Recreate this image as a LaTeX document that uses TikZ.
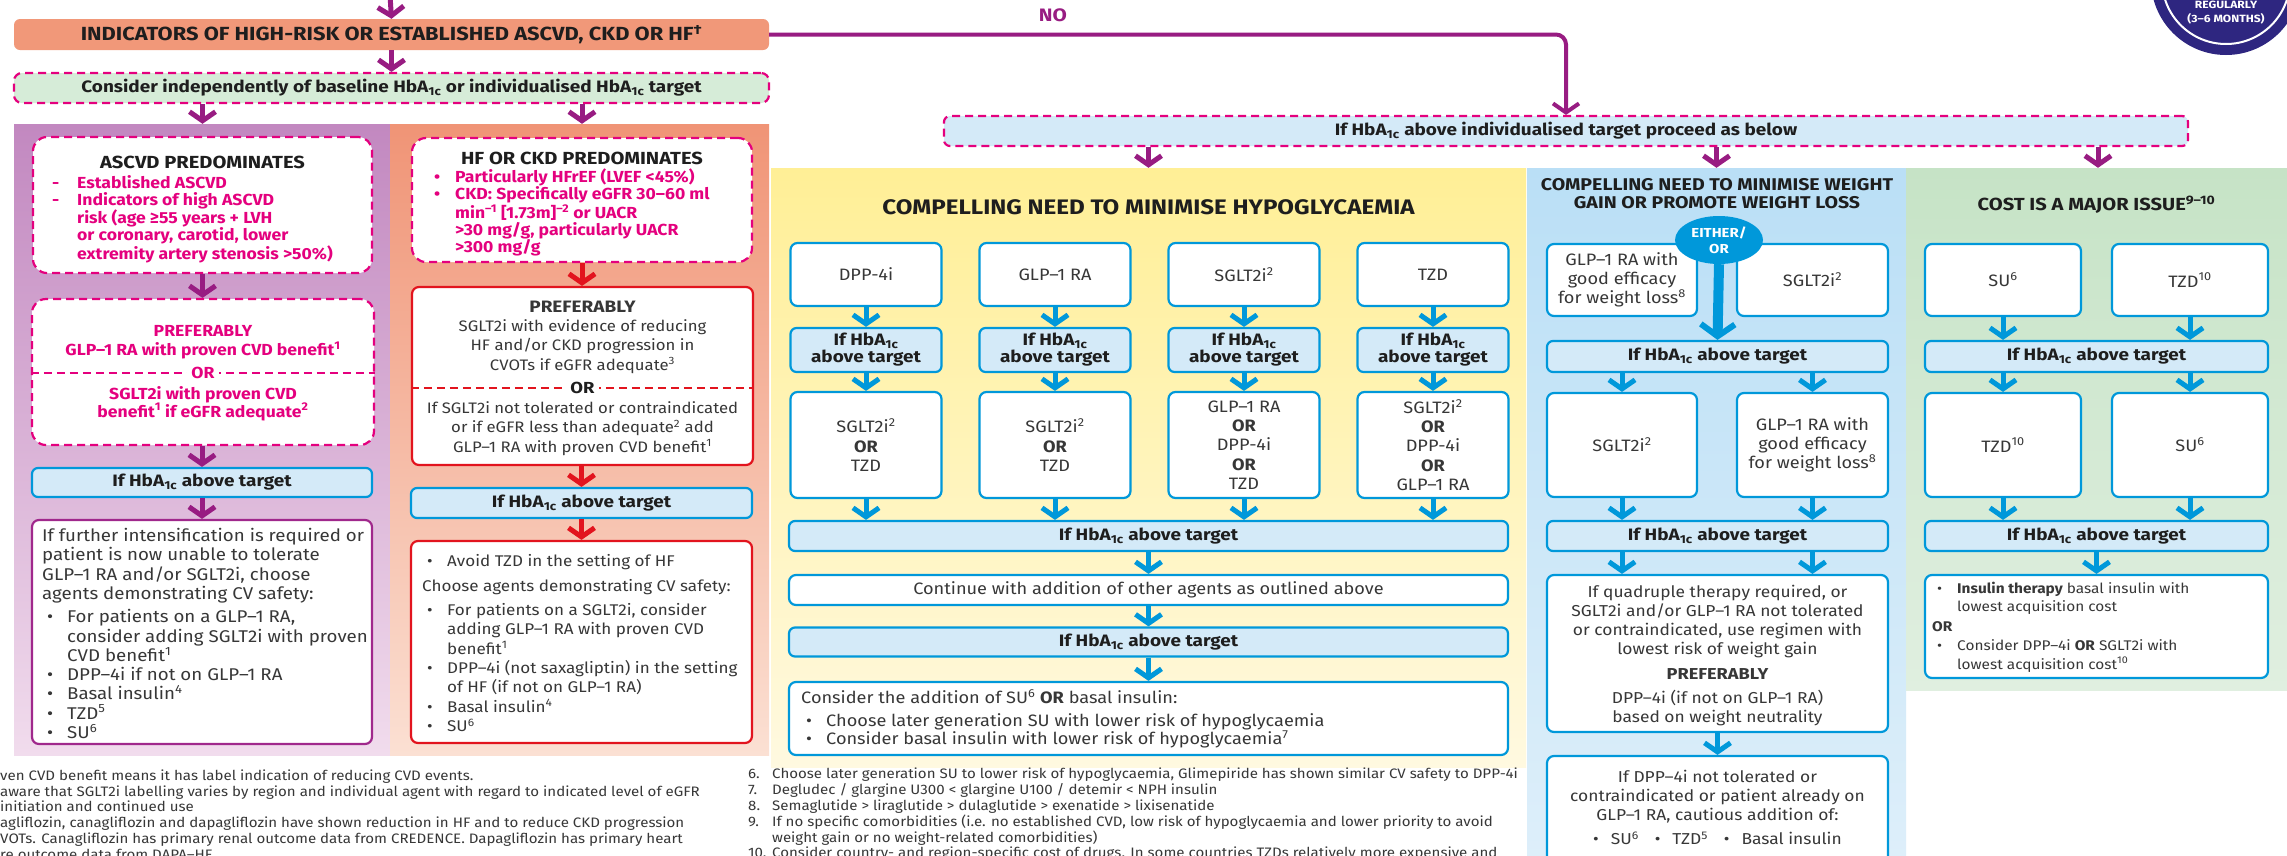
\documentclass[tikz,border=0pt]{standalone}
\usepackage{fontspec}
\setmainfont{Fira Sans}[FakeStretch=1.1]
\newfontfamily\headf{Fira Sans}[FakeStretch=1.15]
\usetikzlibrary{arrows.meta,shapes.geometric}
\definecolor{purA}{RGB}{152,28,130}
\definecolor{purB}{RGB}{160,40,140}
\definecolor{magD}{RGB}{228,0,126}
\definecolor{redA}{RGB}{226,20,30}
\definecolor{blueA}{RGB}{0,152,218}
\definecolor{blueF}{RGB}{212,234,248}
\definecolor{oraF}{RGB}{241,152,121}
\definecolor{greF}{RGB}{214,236,216}
\definecolor{navy}{RGB}{46,38,128}
\definecolor{purT}{RGB}{194,136,192}
\definecolor{purBt}{RGB}{241,220,237}
\definecolor{oraT}{RGB}{240,148,118}
\definecolor{oraBt}{RGB}{251,224,211}
\definecolor{yelT}{RGB}{255,239,150}
\definecolor{yelB}{RGB}{255,249,224}
\definecolor{bluT}{RGB}{186,223,246}
\definecolor{bluB}{RGB}{222,239,250}
\definecolor{grnT}{RGB}{198,227,198}
\definecolor{grnB}{RGB}{224,239,224}
\definecolor{txtD}{RGB}{30,30,30}
\definecolor{txtG}{RGB}{55,55,55}
\newcommand\mydash{\makebox[25pt][l]{-}}
\newcommand\mydot{\makebox[21pt][l]{•}}
\newcommand\myind[1]{\hspace*{#1pt}}
\newcommand\mybul{\hspace*{5pt}\makebox[20pt][l]{•}}
\newcommand\hba{HbA\textsubscript{1c}}
\begin{document}
\begin{tikzpicture}[x=1pt,y=-1pt,
  sz/.style 2 args={minimum width=#1pt,minimum height=#2pt},
  pan/.style={inner sep=0pt,draw=none},
  wbox/.style={draw,fill=white,rounded corners=7pt,line width=2.2pt,inner sep=0pt},
  bbox/.style={wbox,draw=blueA,font=\fontsize{16.5}{19.3}\selectfont,text=txtG,align=center},
  bbar/.style={draw=blueA,fill=blueF,rounded corners=6pt,line width=2.2pt,inner sep=0pt,
     font=\headf\bfseries\fontsize{16.5}{17}\selectfont,text=txtD,align=center},
  mdash/.style={draw=magD,line width=2.2pt,dash pattern=on 8pt off 5pt,rounded corners=13pt,inner sep=0pt},
  head/.style={font=\headf\bfseries\fontsize{17.5}{18.5}\selectfont,text=txtD,align=center,inner sep=0pt},
  magt/.style={font=\bfseries\fontsize{16}{17.2}\selectfont,text=magD,inner sep=0pt},
  body/.style={font=\fontsize{17}{19.3}\selectfont,text=txtG,inner sep=0pt},
  fn/.style={font=\fontsize{13.7}{15.8}\selectfont,text=txtG,inner sep=0pt,align=left,anchor=west},
  arrP/.style={draw=purA,line width=5pt,-{Straight Barb[length=9pt,width=26pt]}},
  arrR/.style={arrP,draw=redA},
  arrB/.style={arrP,draw=blueA},
]
\useasboundingbox (0,0) rectangle (2287,855);
\fill[white] (0,0) rectangle (2287,855);
\clip (0,0) rectangle (2287,855);

% review circle
\node[circle,fill=navy,draw=none,minimum size=150pt,inner sep=0pt] (regc) at (2226,-20) {};
\draw[white,line width=2pt] (regc.center) circle[radius=64pt];
\node[font=\headf\bfseries\fontsize{10.5}{10.5}\selectfont,text=white,inner sep=0pt] (reg1) at (2226,5) {REGULARLY};
\node[font=\headf\bfseries\fontsize{10.5}{10.5}\selectfont,text=white,inner sep=0pt] (reg2) at (2226,19) {(3–6 MONTHS)};

% top
\coordinate (tst) at (390,-5);
\node[fill=oraF,rounded corners=6pt,sz={755}{31},inner sep=0pt,font=\headf\bfseries\fontsize{19}{19}\selectfont,text=txtD] (ind) at (391.5,34.5) {INDICATORS OF HIGH-RISK OR ESTABLISHED ASCVD, CKD OR HF\textsuperscript{†}};
\node[mdash,fill=greF,rounded corners=8pt,sz={755}{30},font=\headf\bfseries\fontsize{16.5}{16.5}\selectfont,text=txtD] (cons) at (391.5,88) {Consider independently of baseline \hba{} or individualised \hba{} target};
\node[font=\headf\bfseries\fontsize{18}{18}\selectfont,text=purA,inner sep=0pt] (nolab) at (1053,15) {NO};

% panels
\node[pan,top color=purT,bottom color=purBt,sz={376}{631}] (pp) at (202,439.5) {};
\node[pan,top color=oraT,bottom color=oraBt,sz={379}{631}] (op) at (579.5,439.5) {};
\node[pan,top color=yelT,bottom color=yelB,sz={755}{599}] (yp) at (1148.5,467.5) {};
\node[pan,top color=bluT,bottom color=bluB,sz={379}{702}] (bp) at (1716.5,519) {};
\node[pan,top color=grnT,bottom color=grnB,sz={384}{522}] (gp) at (2098,429) {};

\node[mdash,fill=blueF,rounded corners=6pt,sz={1244}{30},font=\headf\bfseries\fontsize{16.5}{17}\selectfont,text=txtD] (ind2) at (1566,131) {If \hba{} above individualised target proceed as below};

% ---------- ASCVD column
\node[mdash,fill=white,rounded corners=14pt,sz={339}{136}] (asc) at (202.5,205) {};
\node[head] (asct) at (202.5,162) {ASCVD PREDOMINATES};
\node[magt,anchor=west,align=left] (ascl) at (52,219) {\mydash Established ASCVD\\ \mydash Indicators of high ASCVD\\ \myind{25}risk (age ≥55 years + LVH\\ \myind{25}or coronary, carotid, lower\\ \myind{25}extremity artery stenosis >50\%)};

\node[mdash,fill=white,rounded corners=14pt,sz={342}{146}] (pref1) at (203,372) {};
\coordinate (d1) at (0,373);
\draw[magD,line width=2pt,dash pattern=on 8pt off 5pt] (pref1.west |- d1) -- (pref1.east |- d1);
\node[magt,fill=white,inner sep=4pt] (or1) at (203,373) {OR};
\node[magt,align=center,font=\bfseries\fontsize{16}{19}\selectfont] (p1a) at (203,342.5) {PREFERABLY\\GLP–1 RA with proven CVD benefit\textsuperscript{1}};
\node[magt,align=center,font=\bfseries\fontsize{16}{18}\selectfont] (p1b) at (203,403.5) {SGLT2i with proven CVD\\benefit\textsuperscript{1} if eGFR adequate\textsuperscript{2}};

\node[bbar,sz={340}{29}] (hb1) at (202,482.5) {If \hba{} above target};
\node[wbox,draw=purB,sz={340}{224}] (int1) at (202,632) {};
\node[body,anchor=west,align=left] (int1t) at (42,633.5) {If further intensification is required or\\patient is now unable to tolerate\\GLP–1 RA and/or SGLT2i, choose\\agents demonstrating CV safety:\\[4pt] \mybul For patients on a GLP–1 RA,\\ \myind{25}consider adding SGLT2i with proven\\ \myind{25}CVD benefit\textsuperscript{1}\\ \mybul DPP–4i if not on GLP–1 RA\\ \mybul Basal insulin\textsuperscript{4}\\ \mybul TZD\textsuperscript{5}\\ \mybul SU\textsuperscript{6}};

% ---------- HF / CKD column
\node[mdash,fill=white,rounded corners=14pt,sz={340}{124}] (hf) at (582,200) {};
\node[head] (hft) at (582,158) {HF OR CKD PREDOMINATES};
\node[magt,anchor=west,align=left] (hfl) at (434,212.5) {\mydot Particularly HFrEF (LVEF <45\%)\\ \mydot CKD: Specifically eGFR 30–60 ml\\ \myind{21}min\textsuperscript{–1} [1.73m]\textsuperscript{–2} or UACR\\ \myind{21}>30 mg/g, particularly UACR\\ \myind{21}>300 mg/g};

\node[wbox,draw=redA,sz={341}{178}] (pref2) at (582.5,376) {};
\coordinate (d2) at (0,388);
\draw[redA,line width=2pt,dash pattern=on 8pt off 5pt] (pref2.west |- d2) -- (pref2.east |- d2);
\node[head,fill=white,inner sep=4pt,font=\headf\bfseries\fontsize{16}{16}\selectfont] (or2) at (582.5,388) {OR};
\node[body,align=center,font=\fontsize{15.2}{19.3}\selectfont] (p2a) at (582.5,337) {{\headf\bfseries\fontsize{16.5}{19.3}\selectfont PREFERABLY}\\SGLT2i with evidence of reducing\\HF and/or CKD progression in\\CVOTs if eGFR adequate\textsuperscript{3}};
\node[body,align=center,font=\fontsize{15.2}{19.3}\selectfont] (p2b) at (582.5,428.5) {If SGLT2i not tolerated or contraindicated\\or if eGFR less than adequate\textsuperscript{2} add\\GLP–1 RA with proven CVD benefit\textsuperscript{1}};

\node[bbar,sz={341}{30}] (hb2) at (581.5,503) {If \hba{} above target};
\node[wbox,draw=redA,sz={341}{202}] (int2) at (581.5,642) {};
\node[body,anchor=west,align=left,font=\fontsize{15.5}{19.3}\selectfont] (int2t) at (422,643) {\mybul Avoid TZD in the setting of HF\\[5.7pt] Choose agents demonstrating CV safety:\\[4.7pt] \mybul For patients on a SGLT2i, consider\\ \myind{25}adding GLP–1 RA with proven CVD\\ \myind{25}benefit\textsuperscript{1}\\ \mybul DPP–4i (not saxagliptin) in the setting\\ \myind{25}of HF (if not on GLP–1 RA)\\ \mybul Basal insulin\textsuperscript{4}\\ \mybul SU\textsuperscript{6}};

% ---------- hypoglycaemia column
\node[head,font=\headf\bfseries\fontsize{21}{21}\selectfont] (yt) at (1148.5,207) {COMPELLING NEED TO MINIMISE HYPOGLYCAEMIA};
\node[bbox,sz={151}{63}] (y1) at (866,274.5) {DPP-4i};
\node[bbox,sz={151}{63}] (y2) at (1055,274.5) {GLP–1 RA};
\node[bbox,sz={151}{63}] (y3) at (1244,274.5) {SGLT2i\textsuperscript{2}};
\node[bbox,sz={151}{63}] (y4) at (1433,274.5) {TZD};
\foreach \i/\xx in {1/866,2/1055,3/1244,4/1433}{
  \node[bbar,sz={151}{44}] (r\i) at (\xx,350) {If \hba\\above target};
}
\node[bbox,sz={151}{106}] (s1) at (866,445) {SGLT2i\textsuperscript{2}\\\textbf{OR}\\TZD};
\node[bbox,sz={151}{106}] (s2) at (1055,445) {SGLT2i\textsuperscript{2}\\\textbf{OR}\\TZD};
\node[bbox,sz={151}{106}] (s3) at (1244,445) {GLP–1 RA\\\textbf{OR}\\DPP-4i\\\textbf{OR}\\TZD};
\node[bbox,sz={151}{106}] (s4) at (1433,445) {SGLT2i\textsuperscript{2}\\\textbf{OR}\\DPP-4i\\\textbf{OR}\\GLP–1 RA};
\node[bbar,sz={719}{30}] (yb1) at (1148.5,536) {If \hba{} above target};
\node[bbox,sz={719}{30}] (ycont) at (1148.5,590) {Continue with addition of other agents as outlined above};
\node[bbar,sz={719}{29}] (yb2) at (1148.5,642) {If \hba{} above target};
\node[bbox,sz={719}{73}] (ysu) at (1148.5,718.5) {};
\node[body,anchor=west,align=left,font=\fontsize{16.5}{18}\selectfont] (ysut) at (801,719) {Consider the addition of SU\textsuperscript{6} \textbf{OR} basal insulin:\\[5pt] \mybul Choose later generation SU with lower risk of hypoglycaemia\\ \mybul Consider basal insulin with lower risk of hypoglycaemia\textsuperscript{7}};
\foreach \i in {1,...,4}{
  \draw[arrB] (y\i.south) -- (r\i.north);
  \draw[arrB] (r\i.south) -- (s\i.north);
  \draw[arrB] (s\i.south) -- (yb1.north -| s\i.south);
}
\draw[arrB] (yb1.south) -- (ycont.north);
\draw[arrB] (ycont.south) -- (yb2.north);
\draw[arrB] (yb2.south) -- (ysu.north);

% ---------- weight column
\node[head,font=\headf\bfseries\fontsize{17}{17.5}\selectfont] (wt) at (1717,193.5) {COMPELLING NEED TO MINIMISE WEIGHT\\GAIN OR PROMOTE WEIGHT LOSS};
\node[bbox,sz={150}{72}] (wl1) at (1622,280) {GLP–1 RA with\\good efficacy\\for weight loss\textsuperscript{8}};
\node[bbox,sz={151}{72}] (wr1) at (1812.5,280) {SGLT2i\textsuperscript{2}};
\node[ellipse,fill=blueA,draw=none,sz={88}{48},inner sep=0pt,font=\headf\bfseries\fontsize{13}{16}\selectfont,text=white,align=center] (eo) at (1719,240) {EITHER/\\OR};
\node[bbar,sz={341}{31}] (wbar1) at (1717.5,356.5) {If \hba{} above target};
\draw[blueA,line width=10pt,-{Straight Barb[length=12pt,width=34pt,line width=6pt]}] (eo.south) -- (wbar1.north);
\node[bbox,sz={150}{104}] (wl2) at (1622,445) {SGLT2i\textsuperscript{2}};
\node[bbox,sz={151}{104}] (wr2) at (1812.5,445) {GLP–1 RA with\\good efficacy\\for weight loss\textsuperscript{8}};
\node[bbar,sz={341}{30}] (wbar2) at (1717.5,536) {If \hba{} above target};
\node[bbox,sz={341}{157}] (wq) at (1717.5,653.5) {};
\node[body,align=center,font=\fontsize{15.8}{19.3}\selectfont] (wqt) at (1717.5,655.5) {If quadruple therapy required, or\\SGLT2i and/or GLP–1 RA not tolerated\\or contraindicated, use regimen with\\lowest risk of weight gain\\[5pt]{\headf\bfseries PREFERABLY}\\[5pt]DPP–4i (if not on GLP–1 RA)\\based on weight neutrality};
\node[bbox,sz={341}{114}] (wd) at (1717.5,813) {};
\node[body,align=center,font=\fontsize{15.8}{19.3}\selectfont] (wdt) at (1717.5,807.5) {If DPP–4i not tolerated or\\contraindicated or patient already on\\GLP–1 RA, cautious addition of:\\[4.5pt]•\hspace{12pt}SU\textsuperscript{6}\hspace{16pt}•\hspace{12pt}TZD\textsuperscript{5}\hspace{16pt}•\hspace{12pt}Basal insulin};
\draw[arrB] (wbar1.south -| wl2.north) -- (wl2.north);
\draw[arrB] (wbar1.south -| wr2.north) -- (wr2.north);
\draw[arrB] (wl2.south) -- (wbar2.north -| wl2.south);
\draw[arrB] (wr2.south) -- (wbar2.north -| wr2.south);
\draw[arrB] (wbar2.south -| wl2.south) -- (wq.north -| wl2.south);
\draw[arrB] (wbar2.south -| wr2.south) -- (wq.north -| wr2.south);
\draw[arrB] (wq.south) -- (wd.north);

% ---------- cost column
\node[head] (gt) at (2096.5,205) {COST IS A MAJOR ISSUE\textsuperscript{9–10}};
\node[bbox,sz={156}{72}] (gl1) at (2003,280) {SU\textsuperscript{6}};
\node[bbox,sz={156}{72}] (gr1) at (2190,280) {TZD\textsuperscript{10}};
\node[bbar,sz={343}{31}] (gbar1) at (2096.5,356.5) {If \hba{} above target};
\node[bbox,sz={156}{104}] (gl2) at (2003,445) {TZD\textsuperscript{10}};
\node[bbox,sz={156}{104}] (gr2) at (2190,445) {SU\textsuperscript{6}};
\node[bbar,sz={343}{30}] (gbar2) at (2096.5,536) {If \hba{} above target};
\node[bbox,sz={343}{103}] (gfin) at (2096.5,626.5) {};
\node[body,anchor=west,align=left,font=\fontsize{14}{18.5}\selectfont] (gfint) at (1932,627) {\mybul\textbf{Insulin therapy} basal insulin with\\ \myind{25}lowest acquisition cost\\[1pt]\textbf{OR}\\[1pt] \mybul Consider DPP–4i \textbf{OR} SGLT2i with\\ \myind{25}lowest acquisition cost\textsuperscript{10}};
\draw[arrB] (gl1.south) -- (gbar1.north -| gl1.south);
\draw[arrB] (gr1.south) -- (gbar1.north -| gr1.south);
\draw[arrB] (gbar1.south -| gl2.north) -- (gl2.north);
\draw[arrB] (gbar1.south -| gr2.north) -- (gr2.north);
\draw[arrB] (gl2.south) -- (gbar2.north -| gl2.south);
\draw[arrB] (gr2.south) -- (gbar2.north -| gr2.south);
\draw[arrB] (gbar2.south) -- (gfin.north);

% ---------- main arrows
\draw[arrP] (tst) -- (ind.north);
\draw[arrP] (ind.south) -- (cons.north);
\draw[arrP] (cons.south -| asc.north) -- (pp.north -| asc.north);
\draw[arrP] (cons.south -| hf.north) -- (op.north -| hf.north);
\draw[arrP] (asc.south) -- (pref1.north -| asc.south);
\draw[arrP] (pref1.south -| hb1.north) -- (hb1.north);
\draw[arrP] (hb1.south) -- (int1.north);
\draw[arrR] (hf.south) -- (pref2.north -| hf.south);
\draw[arrR] (pref2.south -| hb2.north) -- (hb2.north);
\draw[arrR] (hb2.south) -- (int2.north);
\draw[arrP,line width=4pt,rounded corners=10pt] (ind.east) -| (ind2.north);
\draw[arrP] (ind2.south -| yp.north) -- (yp.north);
\draw[arrP] (ind2.south -| bp.north) -- (bp.north);
\draw[arrP] (ind2.south -| gp.north) -- (gp.north);

% ---------- footnotes
\node[fn] (fnl) at (0,814.5) {ven CVD benefit means it has label indication of reducing CVD events.\\aware that SGLT2i labelling varies by region and individual agent with regard to indicated level of eGFR\\initiation and continued use\\agliflozin, canagliflozin and dapagliflozin have shown reduction in HF and to reduce CKD progression\\VOTs. Canagliflozin has primary renal outcome data from CREDENCE. Dapagliflozin has primary heart\\re outcome data from DAPA–HF};
\node[fn] (fnr) at (748,814.5) {\makebox[24pt][l]{6.}Choose later generation SU to lower risk of hypoglycaemia, Glimepiride has shown similar CV safety to DPP-4i\\\makebox[24pt][l]{7.}Degludec / glargine U300 < glargine U100 / detemir < NPH insulin\\\makebox[24pt][l]{8.}Semaglutide > liraglutide > dulaglutide > exenatide > lixisenatide\\\makebox[24pt][l]{9.}If no specific comorbidities (i.e. no established CVD, low risk of hypoglycaemia and lower priority to avoid\\\myind{24}weight gain or no weight-related comorbidities)\\\makebox[24pt][l]{10.}Consider country- and region-specific cost of drugs. In some countries TZDs relatively more expensive and};
\end{tikzpicture}
\end{document}
